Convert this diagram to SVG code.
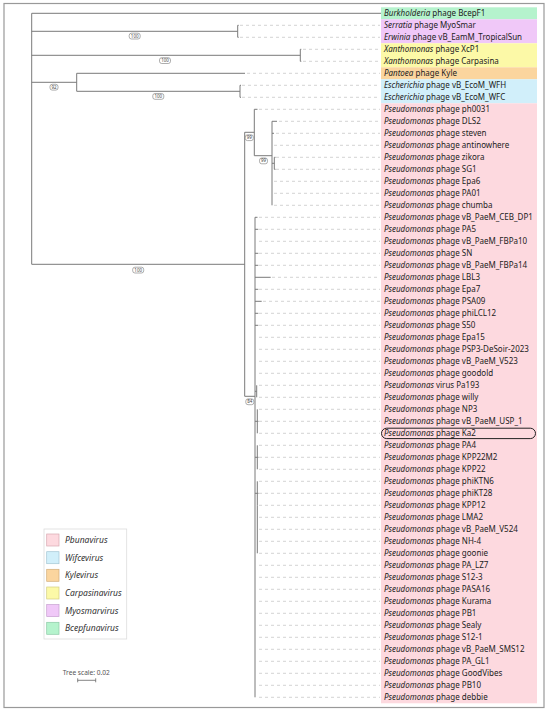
<svg xmlns="http://www.w3.org/2000/svg" width="550" height="713" viewBox="0 0 550 713">
<style>
.lbl{font-family:"Noto Sans","DejaVu Sans",sans-serif;font-size:8px;fill:#222}
.it{font-style:italic}
.tree{fill:none;stroke:#7a7a7a;stroke-width:1}
.lead{fill:none;stroke:#c8c8c8;stroke-width:0.8;stroke-dasharray:3 3}
.bs rect{fill:#fff;stroke:#777;stroke-width:0.6}
.bs text{font-family:"Noto Sans","DejaVu Sans",sans-serif;font-size:4.5px;fill:#444;text-anchor:middle}
.leg{font-family:"Noto Sans","DejaVu Sans",sans-serif;font-size:8.5px;font-style:italic;fill:#333}
</style>
<rect x="0" y="0" width="550" height="713" fill="#fff"/>
<rect x="4" y="3.5" width="540" height="704" fill="none" stroke="#999" stroke-width="1.2"/>
<g id="bands">
<rect x="381" y="7.3" width="156" height="12" fill="#b5f3cd"/>
<rect x="381" y="19.3" width="156" height="24" fill="#f0c8f8"/>
<rect x="381" y="43.3" width="156" height="24" fill="#fcf9a7"/>
<rect x="381" y="67.3" width="156" height="12" fill="#fbd59e"/>
<rect x="381" y="79.3" width="156" height="24" fill="#d1effa"/>
<rect x="381" y="103.3" width="156" height="600" fill="#fdd9df"/>
</g>
<g id="connectors">
<path class="lead" d="M240 25.3H380M240 37.3H380M303 49.3H380M303 61.3H380M247 73.3H380M242 85.3H380M242 97.3H380M259 109.3H380M279 121.3H380M276 133.3H380M274 145.3H380M276 157.3H380M276 169.3H380M274 181.3H380M274 193.3H380M274 205.3H380M259 217.3H380M259 229.3H380M259 241.3H380M259 253.3H380M259 265.3H380M272 277.3H380M259 289.3H380M263 301.3H380M259 313.3H380M259 325.3H380M259 337.3H380M259 349.3H380M259 361.3H380M259 373.3H380M259 385.3H380M259 397.3H380M259 409.3H380M259 421.3H380M259 433.3H380M259 445.3H380M259 457.3H380M259 469.3H380M259 481.3H380M259 493.3H380M259 505.3H380M259 517.3H380M259 529.3H380M259 541.3H380M259 553.3H380M259 565.3H380M259 577.3H380M259 589.3H380M259 601.3H380M259 613.3H380M259 625.3H380M259 637.3H380M259 649.3H380M259 661.3H380M259 673.3H380M259 685.3H380M259 697.3H380"/>
<path class="tree" d="M31.7 13.3V264.3M31.7 13.3H381
M31.7 31.3H237.7M237.7 25.3V37.3M237.7 25.3H238.7M237.7 37.3H238.7
M31.7 55.3H300.3M300.3 49.3V61.3M300.3 49.3H301.3M300.3 61.3H301.3
M31.7 82.3H76.7M76.7 73.3V91.3M76.7 73.3H245M76.7 91.3H240M240 85.3V97.3M240 85.3H241M240 97.3H241
M31.7 264.3H244.7M244.7 132.3V396.3
M244.7 132.3H254.3M254.3 109.3V155.7M254.3 109.3H257.5
M254.3 155.7H272M272 121.3V205.3M272 121.3H277M272 133.3H274M272 163.3H274.3M274.3 157.3V169.3M274.3 157.3H275.5M274.3 169.3H275.5
M244.7 396.3H255M255 217.3V697.3M255 217.3H257.5
M255 229.3H258.3M255 253.3H258.3M255 265.3H258.3M255 277.3H270.7M255 289.3H258.3M255 301.3H261.7M255 313.3H258.3M255 325.3H258.3
M255 391.3H256.7M256.7 385.3V397.3
M255 421.3H257.3M257.3 409.3V433.3M257.3 421.3H258.5
M255 457.3H257.3M257.3 445.3V469.3M257.3 457.3H258.5
M255 493.3H257.3M257.3 481.3V505.3M257.3 493.3H258.5
M257.3 505.3V553.3"/>
</g>
<g id="bootstrap" class="bs">
<g id="bs-serratia"><rect x="129.2" y="33.2" width="11" height="5.8" rx="2.2"/><text x="134.7" y="37.6">100</text></g>
<g id="bs-xanthomonas"><rect x="159.5" y="57.7" width="11" height="5.8" rx="2.2"/><text x="165" y="62.1">100</text></g>
<g id="bs-node4"><rect x="50" y="84.3" width="8" height="5.8" rx="2.2"/><text x="54" y="88.7">92</text></g>
<g id="bs-escherichia"><rect x="152.8" y="93.5" width="11" height="5.8" rx="2.2"/><text x="158.3" y="97.9">100</text></g>
<g id="bs-pseudomonas"><rect x="132.7" y="267.2" width="11" height="5.8" rx="2.2"/><text x="138.2" y="271.6">100</text></g>
<g id="bs-b"><rect x="245.3" y="134.8" width="8" height="5.8" rx="2.2"/><text x="249.3" y="139.2">99</text></g>
<g id="bs-c"><rect x="259.5" y="158" width="8" height="5.8" rx="2.2"/><text x="263.5" y="162.4">99</text></g>
<g id="bs-d"><rect x="245.8" y="398.9" width="8" height="5.8" rx="2.2"/><text x="249.8" y="403.3">84</text></g>
</g>
<g id="leaves" class="lbl">
<g id="leaf-BcepF1"><text x="384" y="16.2"><tspan class="it">Burkholderia</tspan> phage BcepF1</text></g>
<g id="leaf-MyoSmar"><text x="384" y="28.2"><tspan class="it">Serratia</tspan> phage MyoSmar</text></g>
<g id="leaf-TropicalSun"><text x="384" y="40.2"><tspan class="it">Erwinia</tspan> phage vB_EamM_TropicalSun</text></g>
<g id="leaf-XcP1"><text x="384" y="52.2"><tspan class="it">Xanthomonas</tspan> phage XcP1</text></g>
<g id="leaf-Carpasina"><text x="384" y="64.2"><tspan class="it">Xanthomonas</tspan> phage Carpasina</text></g>
<g id="leaf-Kyle"><text x="384" y="76.2"><tspan class="it">Pantoea</tspan> phage Kyle</text></g>
<g id="leaf-WFH"><text x="384" y="88.2"><tspan class="it">Escherichia</tspan> phage vB_EcoM_WFH</text></g>
<g id="leaf-WFC"><text x="384" y="100.2"><tspan class="it">Escherichia</tspan> phage vB_EcoM_WFC</text></g>
<g id="leaf-ph0031"><text x="384" y="112.2"><tspan class="it">Pseudomonas</tspan> phage ph0031</text></g>
<g id="leaf-DLS2"><text x="384" y="124.2"><tspan class="it">Pseudomonas</tspan> phage DLS2</text></g>
<g id="leaf-steven"><text x="384" y="136.2"><tspan class="it">Pseudomonas</tspan> phage steven</text></g>
<g id="leaf-antinowhere"><text x="384" y="148.2"><tspan class="it">Pseudomonas</tspan> phage antinowhere</text></g>
<g id="leaf-zikora"><text x="384" y="160.2"><tspan class="it">Pseudomonas</tspan> phage zikora</text></g>
<g id="leaf-SG1"><text x="384" y="172.2"><tspan class="it">Pseudomonas</tspan> phage SG1</text></g>
<g id="leaf-Epa6"><text x="384" y="184.2"><tspan class="it">Pseudomonas</tspan> phage Epa6</text></g>
<g id="leaf-PA01"><text x="384" y="196.2"><tspan class="it">Pseudomonas</tspan> phage PA01</text></g>
<g id="leaf-chumba"><text x="384" y="208.2"><tspan class="it">Pseudomonas</tspan> phage chumba</text></g>
<g id="leaf-CEB_DP1"><text x="384" y="220.2"><tspan class="it">Pseudomonas</tspan> phage vB_PaeM_CEB_DP1</text></g>
<g id="leaf-PA5"><text x="384" y="232.2"><tspan class="it">Pseudomonas</tspan> phage PA5</text></g>
<g id="leaf-FBPa10"><text x="384" y="244.2"><tspan class="it">Pseudomonas</tspan> phage vB_PaeM_FBPa10</text></g>
<g id="leaf-SN"><text x="384" y="256.2"><tspan class="it">Pseudomonas</tspan> phage SN</text></g>
<g id="leaf-FBPa14"><text x="384" y="268.2"><tspan class="it">Pseudomonas</tspan> phage vB_PaeM_FBPa14</text></g>
<g id="leaf-LBL3"><text x="384" y="280.2"><tspan class="it">Pseudomonas</tspan> phage LBL3</text></g>
<g id="leaf-Epa7"><text x="384" y="292.2"><tspan class="it">Pseudomonas</tspan> phage Epa7</text></g>
<g id="leaf-PSA09"><text x="384" y="304.2"><tspan class="it">Pseudomonas</tspan> phage PSA09</text></g>
<g id="leaf-phiLCL12"><text x="384" y="316.2"><tspan class="it">Pseudomonas</tspan> phage phiLCL12</text></g>
<g id="leaf-S50"><text x="384" y="328.2"><tspan class="it">Pseudomonas</tspan> phage S50</text></g>
<g id="leaf-Epa15"><text x="384" y="340.2"><tspan class="it">Pseudomonas</tspan> phage Epa15</text></g>
<g id="leaf-PSP3"><text x="384" y="352.2"><tspan class="it">Pseudomonas</tspan> phage PSP3-DeSoir-2023</text></g>
<g id="leaf-V523"><text x="384" y="364.2"><tspan class="it">Pseudomonas</tspan> phage vB_PaeM_V523</text></g>
<g id="leaf-goodold"><text x="384" y="376.2"><tspan class="it">Pseudomonas</tspan> phage goodold</text></g>
<g id="leaf-Pa193"><text x="384" y="388.2"><tspan class="it">Pseudomonas</tspan> virus Pa193</text></g>
<g id="leaf-willy"><text x="384" y="400.2"><tspan class="it">Pseudomonas</tspan> phage willy</text></g>
<g id="leaf-NP3"><text x="384" y="412.2"><tspan class="it">Pseudomonas</tspan> phage NP3</text></g>
<g id="leaf-USP_1"><text x="384" y="424.2"><tspan class="it">Pseudomonas</tspan> phage vB_PaeM_USP_1</text></g>
<g id="leaf-Ka2"><rect x="381.5" y="428.2" width="154" height="10.4" rx="5.2" fill="none" stroke="#222" stroke-width="1"/><text x="384" y="436.2"><tspan class="it">Pseudomonas</tspan> phage Ka2</text></g>
<g id="leaf-PA4"><text x="384" y="448.2"><tspan class="it">Pseudomonas</tspan> phage PA4</text></g>
<g id="leaf-KPP22M2"><text x="384" y="460.2"><tspan class="it">Pseudomonas</tspan> phage KPP22M2</text></g>
<g id="leaf-KPP22"><text x="384" y="472.2"><tspan class="it">Pseudomonas</tspan> phage KPP22</text></g>
<g id="leaf-phiKTN6"><text x="384" y="484.2"><tspan class="it">Pseudomonas</tspan> phage phiKTN6</text></g>
<g id="leaf-phiKT28"><text x="384" y="496.2"><tspan class="it">Pseudomonas</tspan> phage phiKT28</text></g>
<g id="leaf-KPP12"><text x="384" y="508.2"><tspan class="it">Pseudomonas</tspan> phage KPP12</text></g>
<g id="leaf-LMA2"><text x="384" y="520.2"><tspan class="it">Pseudomonas</tspan> phage LMA2</text></g>
<g id="leaf-V524"><text x="384" y="532.2"><tspan class="it">Pseudomonas</tspan> phage vB_PaeM_V524</text></g>
<g id="leaf-NH-4"><text x="384" y="544.2"><tspan class="it">Pseudomonas</tspan> phage NH-4</text></g>
<g id="leaf-goonie"><text x="384" y="556.2"><tspan class="it">Pseudomonas</tspan> phage goonie</text></g>
<g id="leaf-PA_LZ7"><text x="384" y="568.2"><tspan class="it">Pseudomonas</tspan> phage PA_LZ7</text></g>
<g id="leaf-S12-3"><text x="384" y="580.2"><tspan class="it">Pseudomonas</tspan> phage S12-3</text></g>
<g id="leaf-PASA16"><text x="384" y="592.2"><tspan class="it">Pseudomonas</tspan> phage PASA16</text></g>
<g id="leaf-Kurama"><text x="384" y="604.2"><tspan class="it">Pseudomonas</tspan> phage Kurama</text></g>
<g id="leaf-PB1"><text x="384" y="616.2"><tspan class="it">Pseudomonas</tspan> phage PB1</text></g>
<g id="leaf-Sealy"><text x="384" y="628.2"><tspan class="it">Pseudomonas</tspan> phage Sealy</text></g>
<g id="leaf-S12-1"><text x="384" y="640.2"><tspan class="it">Pseudomonas</tspan> phage S12-1</text></g>
<g id="leaf-SMS12"><text x="384" y="652.2"><tspan class="it">Pseudomonas</tspan> phage vB_PaeM_SMS12</text></g>
<g id="leaf-PA_GL1"><text x="384" y="664.2"><tspan class="it">Pseudomonas</tspan> phage PA_GL1</text></g>
<g id="leaf-GoodVibes"><text x="384" y="676.2"><tspan class="it">Pseudomonas</tspan> phage GoodVibes</text></g>
<g id="leaf-PB10"><text x="384" y="688.2"><tspan class="it">Pseudomonas</tspan> phage PB10</text></g>
<g id="leaf-debbie"><text x="384" y="700.2"><tspan class="it">Pseudomonas</tspan> phage debbie</text></g>
</g>
<g id="legend">
<rect x="44" y="529" width="82.7" height="110" fill="#fff" stroke="#ddd" stroke-width="0.8"/>
<rect x="46.7" y="534" width="12.3" height="12" fill="#fdd9df" stroke="#d8a9b1" stroke-width="0.7"/>
<text class="leg" x="65" y="543">Pbunavirus</text>
<rect x="46.7" y="551.7" width="12.3" height="12" fill="#d1effa" stroke="#a3c6d3" stroke-width="0.7"/>
<text class="leg" x="65" y="560.7">Wifcevirus</text>
<rect x="46.7" y="569.3" width="12.3" height="12" fill="#fbd59e" stroke="#d2ad78" stroke-width="0.7"/>
<text class="leg" x="65" y="578.3">Kylevirus</text>
<rect x="46.7" y="587" width="12.3" height="12" fill="#fcf9a7" stroke="#d3cf83" stroke-width="0.7"/>
<text class="leg" x="65" y="596">Carpasinavirus</text>
<rect x="46.7" y="604.6" width="12.3" height="12" fill="#f0c8f8" stroke="#c7a0d0" stroke-width="0.7"/>
<text class="leg" x="65" y="613.6">Myosmarvirus</text>
<rect x="46.7" y="622.3" width="12.3" height="12" fill="#b5f3cd" stroke="#8ccaa6" stroke-width="0.7"/>
<text class="leg" x="65" y="631.3">Bcepfunavirus</text>
</g>
<g id="scale">
<text x="86.3" y="675" font-family="Noto Sans, DejaVu Sans, sans-serif" font-size="6.6" fill="#555" text-anchor="middle">Tree scale: 0.02</text>
<path d="M77.7 680.3H95.7M77.7 678.3V682.3M95.7 678.3V682.3" fill="none" stroke="#666" stroke-width="0.8"/>
</g>
</svg>
